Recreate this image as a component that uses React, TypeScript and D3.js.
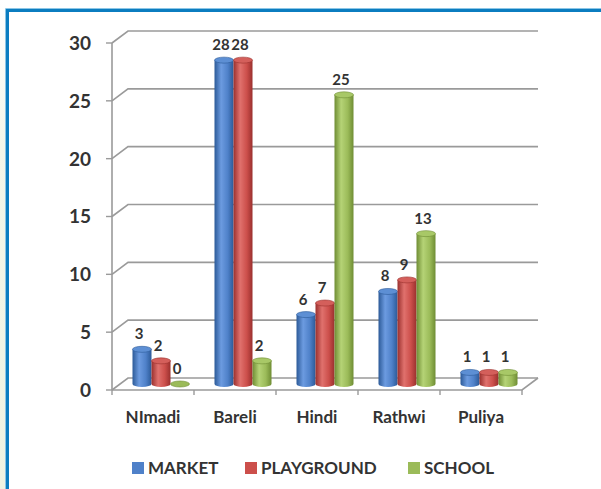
import React from "react";
import * as d3 from "d3";

const categories = ["NImadi", "Bareli", "Hindi", "Rathwi", "Puliya"];
const seriesNames = ["MARKET", "PLAYGROUND", "SCHOOL"];
const market = [3, 28, 6, 8, 1];
const playground = [2, 28, 7, 9, 1];
const school = [0, 2, 25, 13, 1];
const yTicks = [0, 5, 10, 15, 20, 25, 30];

const seriesValues = [market, playground, school];
const colors = [
  { dark: "#2c5a98", mid: "#4f81c9", light: "#6c9be0", top: "#5d8fd4" },
  { dark: "#9a302e", mid: "#cc4f4b", light: "#e0716d", top: "#d45f5b" },
  { dark: "#6f8d34", mid: "#9bbb59", light: "#b5d376", top: "#a8c867" },
];

const W = 601;
const H = 489;
const DX = 16;
const DY = -12;

export default function App() {
  const x = d3.scaleBand<string>().domain(categories).range([112, 522]).paddingInner(0).paddingOuter(0);
  const yBack = d3.scaleLinear().domain([0, 30]).range([378, 31]);
  const yFront = (v: number) => yBack(v) - DY;
  const yMid = (v: number) => yBack(v) - DY / 2;
  const sub = d3.scaleBand<string>().domain(seriesNames).range([-28.5, 28.5]);
  const bw = sub.bandwidth();
  const ry = 3;
  const xLeft = x.range()[0];
  const xRight = x.range()[1];

  const font = "Lato, 'Open Sans', sans-serif";
  const textColor = "#333333";

  return (
    <svg width={W} height={H} style={{ position: "absolute", left: 0, top: 0 }} fontFamily={font}>
      <defs>
        {colors.map((c, i) => (
          <linearGradient key={i} id={`g${i}`} x1="0" x2="1" y1="0" y2="0">
            <stop offset="0" stopColor={c.dark} />
            <stop offset="0.35" stopColor={c.light} />
            <stop offset="0.7" stopColor={c.mid} />
            <stop offset="1" stopColor={c.dark} />
          </linearGradient>
        ))}
        <linearGradient id="side" x1="0" x2="0" y1="0" y2="1">
          <stop offset="0" stopColor="#ffffff" />
          <stop offset="0.3" stopColor="#f3f6e9" />
          <stop offset="1" stopColor="#eef3e2" />
        </linearGradient>
      </defs>
      <rect x={0} y={0} width={W} height={H} fill="#ffffff" />
      <rect x={0} y={0} width={6} height={H} fill="url(#side)" />
      {/* frame */}
      <path d={`M7.5,${H + 5} V10.5 H${W + 5}`} fill="none" stroke="#0b7dc0" strokeWidth={3} />
      <path d={`M5.5,${H + 5} V8.5 H${W + 5}`} fill="none" stroke="#8cc6e6" strokeWidth={1} />

      {/* gridlines on back wall with connectors */}
      {yTicks.map((t) => (
        <g key={t}>
          <path
            d={`M${xLeft},${yFront(t)} L${xLeft + DX},${yBack(t)} H${xRight + DX}`}
            fill="none"
            stroke="#9a9a9a"
            strokeWidth={1.6}
          />
          <line x1={xLeft - 6} x2={xLeft} y1={yFront(t)} y2={yFront(t)} stroke="#9a9a9a" strokeWidth={1.4} />
          <text
            x={91}
            y={yFront(t)}
            dy="0.36em"
            textAnchor="end"
            fontSize={19}
            fontWeight="bold"
            fill={textColor}
          >
            {t}
          </text>
        </g>
      ))}
      {/* front vertical axis */}
      <line x1={xLeft} x2={xLeft} y1={yFront(30)} y2={yFront(0)} stroke="#9a9a9a" strokeWidth={1.6} />
      {/* floor */}
      <path
        d={`M${xLeft},${yFront(0)} H${xRight} L${xRight + DX},${yBack(0)}`}
        fill="none"
        stroke="#9a9a9a"
        strokeWidth={1.6}
      />
      {categories.concat(["end"]).map((c, i) => {
        const xx = i < categories.length ? (x(c) as number) : xRight;
        return <line key={c} x1={xx} x2={xx} y1={yFront(0)} y2={yFront(0) + 5} stroke="#9a9a9a" strokeWidth={1.4} />;
      })}

      {/* bars */}
      {categories.map((c, ci) => {
        const cx = (x(c) as number) + x.bandwidth() / 2 + DX / 2;
        return (
          <g key={c}>
            {seriesNames.map((s, si) => {
              const v = seriesValues[si][ci];
              const bx = cx + (sub(s) as number);
              const mx = bx + bw / 2;
              const base = yMid(0);
              const top = yMid(v);
              const col = colors[si];
              return (
                <g key={s}>
                  {v > 0 ? (
                    <>
                      <path
                        d={`M${bx},${top} V${base} A${bw / 2},${ry} 0 0 0 ${bx + bw},${base} V${top} Z`}
                        fill={`url(#g${si})`}
                      />
                      <ellipse cx={mx} cy={top} rx={bw / 2} ry={ry} fill={col.top} stroke={col.dark} strokeWidth={0.6} />
                    </>
                  ) : (
                    <ellipse cx={mx} cy={base} rx={bw / 2} ry={ry} fill={col.mid} stroke={col.dark} strokeWidth={0.6} />
                  )}
                </g>
              );
            })}
          </g>
        );
      })}
      {/* value labels */}
      {categories.map((c, ci) => {
        const cx = (x(c) as number) + x.bandwidth() / 2 + DX / 2;
        return seriesNames.map((s, si) => {
          const v = seriesValues[si][ci];
          const mx = cx + (sub(s) as number) + bw / 2;
          return (
            <text
              key={c + s}
              x={mx - 3}
              y={yMid(v) - 10}
              textAnchor="middle"
              fontSize={15}
              fontWeight="bold"
              fill={textColor}
            >
              {v}
            </text>
          );
        });
      })}
      {/* category labels */}
      {categories.map((c) => (
        <text
          key={c}
          x={(x(c) as number) + x.bandwidth() / 2}
          y={423}
          textAnchor="middle"
          fontSize={17}
          fontWeight="bold"
          fill={textColor}
        >
          {c}
        </text>
      ))}
      {/* legend */}
      {seriesNames.map((s, i) => {
        const lx = [132, 245, 408][i];
        return (
          <g key={s}>
            <rect x={lx} y={462} width={12} height={12} fill={colors[i].mid} />
            <text x={lx + 16} y={474} fontSize={17} fontWeight="bold" fill={textColor}>
              {s}
            </text>
          </g>
        );
      })}
    </svg>
  );
}
